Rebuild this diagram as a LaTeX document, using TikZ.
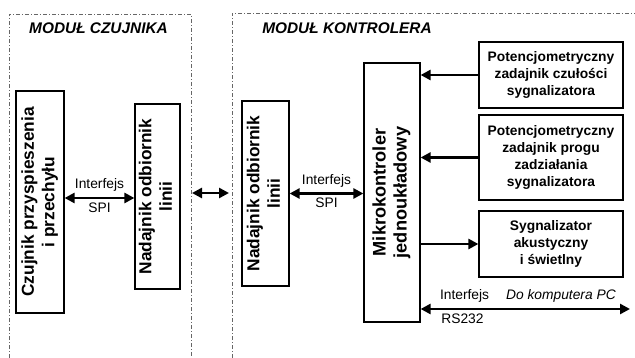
\documentclass[tikz,border=0pt]{standalone}
\usepackage{fontspec}
\setmainfont{Liberation Sans}
\usetikzlibrary{arrows.meta,positioning}

\begin{document}
\begin{tikzpicture}[x=1pt, y=-1pt]

\tikzstyle{blok}=[rectangle, draw=black, line width=1.2pt, inner sep=2pt, align=center, font=\fontsize{13.8}{16.7}\selectfont\bfseries]
\tikzstyle{pionowy}=[blok, font=\fontsize{17.3}{20.5}\selectfont\bfseries]
\tikzstyle{strzalka}=[line width=2.6pt, -{Triangle[length=10pt,width=10pt]}]
\tikzstyle{dwustronna}=[line width=2.6pt, {Triangle[length=10pt,width=10pt]}-{Triangle[length=10pt,width=10pt]}]
\tikzstyle{granica}=[draw=gray!80!black, line width=0.8pt, dash pattern=on 4pt off 2pt on 1pt off 2pt]
\tikzstyle{opis}=[font=\fontsize{13.8}{16}\selectfont]
\tikzstyle{tytul}=[font=\fontsize{15.4}{18}\selectfont\bfseries\itshape]

\useasboundingbox (0,0) rectangle (635,358);

\draw[granica] (9,358) -- (9,14) -- (191,14) -- (191,358);
\draw[granica] (232,358) -- (232,13) -- (635,13);

\node[tytul] (tytulC) at (98.5,28) {MODUŁ CZUJNIKA};
\node[tytul] (tytulK) at (347,28) {MODUŁ KONTROLERA};

\node[pionowy, minimum width=48pt, minimum height=222pt] (czujnik) at (40,202)
  {\rotatebox{90}{\begin{tabular}{@{}c@{}}Czujnik przyspieszenia\\i przechyłu\end{tabular}}};
\node[pionowy, minimum width=45pt, minimum height=185pt] (nadL) at (157.5,196.5)
  {\rotatebox{90}{\begin{tabular}{@{}c@{}}Nadajnik odbiornik\\linii\end{tabular}}};
\node[pionowy, minimum width=47pt, minimum height=185pt] (nadP) at (265.5,193.5)
  {\rotatebox{90}{\begin{tabular}{@{}c@{}}Nadajnik odbiornik\\linii\end{tabular}}};
\node[pionowy, minimum width=56pt, minimum height=259pt, font=\fontsize{18.2}{21}\selectfont\bfseries] (mikro) at (392,192.5)
  {\rotatebox{90}{\begin{tabular}{@{}c@{}}Mikrokontroler\\jednoukładowy\end{tabular}}};

\node[blok, minimum width=144pt, minimum height=66pt] (pot1) at (551,75) {Potencjometryczny\\zadajnik czułości\\sygnalizatora};
\node[blok, minimum width=144pt, minimum height=85pt] (pot2) at (551,157.5) {Potencjometryczny\\zadajnik progu\\zadziałania\\sygnalizatora};
\node[blok, minimum width=144pt, minimum height=66pt] (syg) at (551,244) {Sygnalizator\\akustyczny\\i świetlny};

\coordinate (spiL) at (100,198);
\coordinate (brzegL) at (192,193);
\coordinate (brzegP) at (229,193);
\coordinate (pc) at (630,309);

\draw[dwustronna] (czujnik.east |- spiL) -- node[opis, above=2pt] {Interfejs} node[opis, below] {SPI} (nadL.west |- spiL);
\draw[dwustronna] (brzegL) -- (brzegP);
\draw[dwustronna] (nadP.east) -- node[opis, above=2pt] {Interfejs} node[opis, below] {SPI} (mikro.west |- nadP.east);

\draw[strzalka] (pot1.west) -- (mikro.east |- pot1.west);
\draw[strzalka] (pot2.west) -- (mikro.east |- pot2.west);
\draw[strzalka] (mikro.east |- syg.west) -- (syg.west);

\draw[dwustronna] (mikro.east |- pc) -- node[opis, above=2pt, pos=0.21] {Interfejs} node[opis, below, pos=0.2] {RS232}
  node[opis, above=2pt, pos=0.67, font=\fontsize{13.8}{16}\selectfont\itshape] {Do komputera PC} (pc);

\end{tikzpicture}
\end{document}
